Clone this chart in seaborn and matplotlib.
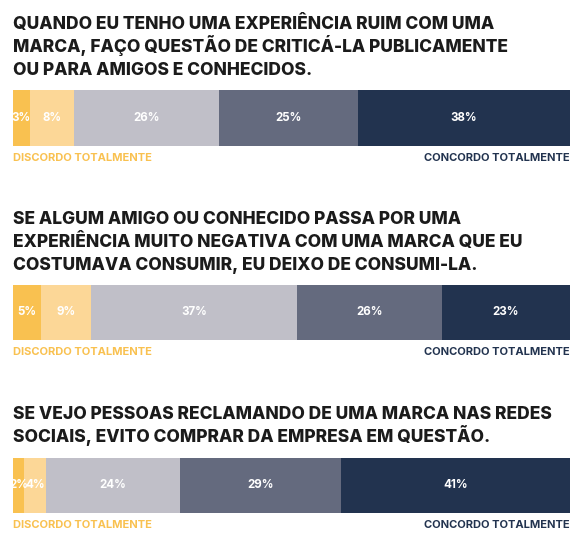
import matplotlib.pyplot as plt
import seaborn as sns
import pandas as pd

sns.set_theme(style='white')
plt.rcParams['font.family'] = ['Inter', 'DejaVu Sans']

titles = [
    ['QUANDO EU TENHO UMA EXPERIÊNCIA RUIM COM UMA',
     'MARCA, FAÇO QUESTÃO DE CRITICÁ-LA PUBLICAMENTE',
     'OU PARA AMIGOS E CONHECIDOS.'],
    ['SE ALGUM AMIGO OU CONHECIDO PASSA POR UMA',
     'EXPERIÊNCIA MUITO NEGATIVA COM UMA MARCA QUE EU',
     'COSTUMAVA CONSUMIR, EU DEIXO DE CONSUMI-LA.'],
    ['SE VEJO PESSOAS RECLAMANDO DE UMA MARCA NAS REDES',
     'SOCIAIS, EVITO COMPRAR DA EMPRESA EM QUESTÃO.'],
]
q1 = [3, 8, 26, 25, 38]
q2 = [5, 9, 37, 26, 23]
q3 = [2, 4, 24, 29, 41]
colors = ['#F9C150', '#FCD797', '#C0BFC8', '#646A7E', '#22334F']

fig = plt.figure(figsize=(5.85, 5.51), dpi=100)
# (bar bottom, bar height, first title baseline) in figure fractions
layout = [(0.735, 0.102, 0.948), (0.383, 0.100, 0.594), (0.069, 0.100, 0.240)]
line_step = 23 / 551

for vals, title, (bot, h, base) in zip([q1, q2, q3], titles, layout):
    ax = fig.add_axes([0.022, bot, 0.952, h])
    df = pd.DataFrame({'v': vals, 'c': colors})
    left = 0
    for v, c in zip(df['v'], df['c']):
        ax.barh(0, v, left=left, color=c, height=1.0, edgecolor='none')
        ax.text(left + v / 2, 0, f'{v}%', ha='center', va='center',
                color='white', fontsize=8.3, fontweight='bold')
        left += v
    ax.set_xlim(0, 100)
    ax.set_ylim(-0.5, 0.5)
    ax.axis('off')
    for i, line in enumerate(title):
        fig.text(0.022, base - i * line_step, line, ha='left', va='baseline',
                 fontsize=12.5, fontweight='heavy', color='#1b1b1b')
    fig.text(0.022, bot - 0.012, 'DISCORDO TOTALMENTE', ha='left', va='top',
             fontsize=8, fontweight='bold', color='#F9C150')
    fig.text(0.974, bot - 0.012, 'CONCORDO TOTALMENTE', ha='right', va='top',
             fontsize=8, fontweight='bold', color='#22334F')

fig.savefig('out.png', dpi=100)
